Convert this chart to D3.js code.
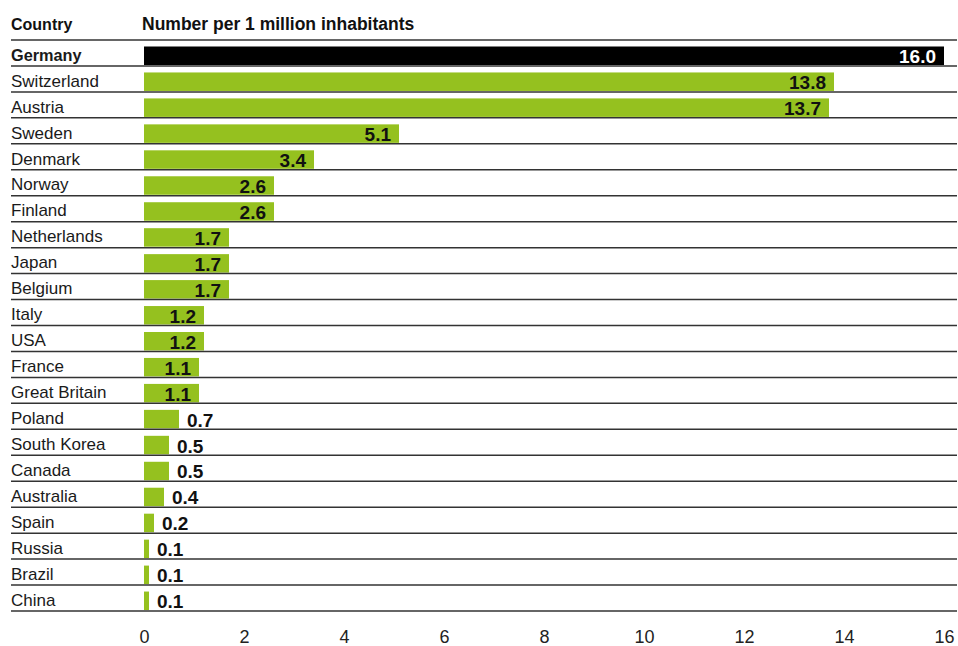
<!DOCTYPE html>
<html>
<head>
<meta charset="utf-8">
<script src="https://cdn.jsdelivr.net/npm/d3@7"></script>
<style>
  html, body { margin: 0; padding: 0; background: #fff; }
  svg { display: block; font-family: "Liberation Sans", Arial, sans-serif; }
</style>
</head>
<body>
<svg id="chart" width="958" height="646"></svg>
<script>
const countries = ["Germany","Switzerland","Austria","Sweden","Denmark","Norway","Finland","Netherlands","Japan","Belgium","Italy","USA","France","Great Britain","Poland","South Korea","Canada","Australia","Spain","Russia","Brazil","China"];
const values = [16.0,13.8,13.7,5.1,3.4,2.6,2.6,1.7,1.7,1.7,1.2,1.2,1.1,1.1,0.7,0.5,0.5,0.4,0.2,0.1,0.1,0.1];
const highlight = ["Germany"];
const xTicks = [0,2,4,6,8,10,12,14,16];
const headerCountry = "Country";
const headerValue = "Number per 1 million inhabitants";

const data = countries.map((c, i) => ({ country: c, value: values[i] }));
const svg = d3.select("#chart");

const x = d3.scaleLinear().domain([0, 16]).range([144, 944]);
const y = d3.scaleBand().domain(countries).range([40, 611]).padding(0);
const green = "#95c11f";
const lineColor = "#333";

// header
svg.append("text").attr("x", 11).attr("y", 30).attr("font-size", 16).attr("font-weight", "bold").attr("fill", "#111").text(headerCountry);
svg.append("text").attr("x", 142).attr("y", 30).attr("font-size", 17.5).attr("font-weight", "bold").attr("fill", "#111").text(headerValue);

// rows
const rows = svg.append("g").selectAll("g").data(data).join("g")
  .attr("transform", d => `translate(0,${y(d.country)})`);

rows.append("rect")
  .attr("x", x(0))
  .attr("y", 6.5)
  .attr("width", d => x(d.value) - x(0))
  .attr("height", 18.5)
  .attr("fill", d => highlight.includes(d.country) ? "#000" : green);

rows.append("text")
  .attr("x", 11)
  .attr("y", 20.7)
  .attr("font-size", d => highlight.includes(d.country) ? 16.3 : 17)
  .attr("font-weight", d => highlight.includes(d.country) ? "bold" : "normal")
  .attr("fill", "#1a1a1a")
  .text(d => d.country);

rows.append("text")
  .attr("x", d => d.value >= 1 ? x(d.value) - 8 : x(d.value) + 8)
  .attr("y", 23.2)
  .attr("text-anchor", d => d.value >= 1 ? "end" : "start")
  .attr("font-size", 19)
  .attr("font-weight", "bold")
  .attr("fill", d => highlight.includes(d.country) ? "#fff" : "#111")
  .text(d => d3.format(".1f")(d.value));

// horizontal rules
const lineYs = [40].concat(countries.map(c => y(c) + y.bandwidth()));
svg.append("g").selectAll("line").data(lineYs).join("line")
  .attr("x1", 11).attr("x2", 957)
  .attr("y1", d => d).attr("y2", d => d)
  .attr("stroke", lineColor).attr("stroke-width", 1.5);

// x axis
const axis = d3.axisBottom(x).tickValues(xTicks).tickSize(0).tickPadding(0).tickFormat(d3.format("d"));
const ag = svg.append("g").attr("transform", "translate(0,630)").call(axis);
ag.select(".domain").remove();
ag.selectAll("text").attr("font-size", 18).attr("fill", "#222").attr("font-family", "Liberation Sans, Arial, sans-serif").attr("dy", "0");
ag.selectAll("text").attr("y", 13);
</script>
</body>
</html>
